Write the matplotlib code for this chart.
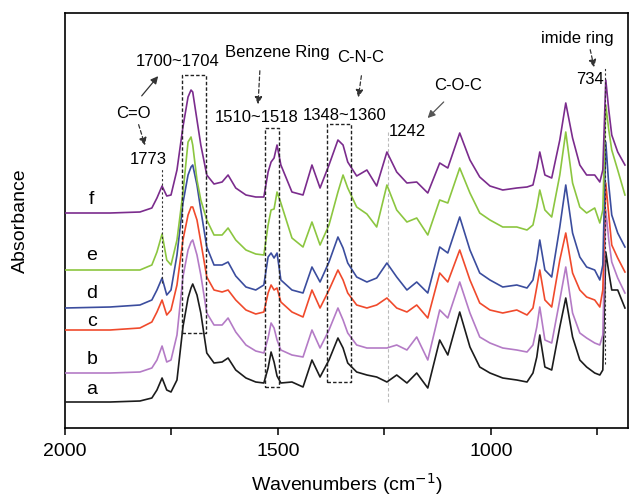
import matplotlib
matplotlib.use("Agg")
import matplotlib.pyplot as plt
from matplotlib.ticker import FixedLocator

plt.rcParams['font.family'] = ['Liberation Sans', 'DejaVu Sans']

# Wavenumber grid (cm^-1) shared by all spectra
wavenumber = [2000, 1894, 1824, 1796, 1784, 1772, 1761, 1751, 1737, 1723,
              1711, 1704, 1700, 1690, 1681, 1667, 1650, 1631, 1617, 1599, 1575,
              1552, 1533, 1523, 1516, 1509, 1502, 1493, 1467, 1441, 1420,
              1401, 1380, 1359, 1347, 1336, 1315, 1291, 1268, 1244, 1221,
              1197, 1174, 1148, 1120, 1101, 1073, 1049, 1026, 1002, 972,
              939, 915, 901, 892, 885, 873, 857, 838, 824, 808,
              791, 775, 756, 744, 737, 730, 723, 716, 702, 685]

# Absorbance (a.u., vertically offset) for each sample
spec_a = [26, 26, 27, 30, 38, 50, 38, 36, 48, 101,
          130, 140, 144, 133, 115, 75, 65, 66, 70, 58, 50,
          46, 45, 60, 76, 66, 52, 45, 46, 41, 68,
          51, 68, 90, 80, 65, 56, 53, 51, 46, 53,
          45, 55, 40, 88, 73, 116, 81, 61, 55, 50,
          48, 46, 55, 71, 93, 61, 58, 101, 130, 91,
          68, 61, 55, 53, 58, 176, 156, 138, 138, 120]
spec_b = [55, 55, 56, 60, 68, 82, 66, 68, 93, 151,
          178, 186, 188, 173, 153, 115, 103, 103, 110, 96, 83,
          77, 75, 90, 105, 100, 88, 78, 73, 71, 98,
          80, 98, 120, 108, 95, 83, 80, 80, 80, 83,
          78, 91, 68, 118, 110, 146, 115, 91, 85, 80,
          78, 76, 83, 101, 121, 88, 85, 128, 161, 115,
          95, 90, 85, 83, 93, 218, 188, 166, 150, 135]
spec_c = [98, 98, 100, 106, 116, 128, 113, 118, 143, 188,
          213, 221, 221, 208, 186, 151, 138, 136, 138, 128, 118,
          114, 116, 135, 143, 138, 140, 126, 116, 111, 138,
          120, 138, 158, 148, 135, 123, 120, 123, 130, 120,
          116, 123, 110, 155, 146, 178, 148, 125, 118, 115,
          118, 113, 120, 141, 158, 128, 121, 168, 195, 155,
          138, 131, 128, 121, 138, 245, 213, 183, 170, 156]
spec_d = [120, 121, 123, 128, 138, 150, 133, 138, 173, 225,
          253, 261, 263, 243, 218, 181, 163, 163, 166, 152, 141,
          138, 143, 171, 175, 170, 175, 148, 138, 135, 161,
          146, 166, 191, 180, 165, 151, 146, 150, 165, 151,
          138, 146, 135, 181, 175, 211, 178, 155, 148, 141,
          143, 140, 148, 168, 188, 158, 151, 201, 243, 195,
          171, 161, 158, 148, 163, 286, 243, 213, 195, 181]
spec_e = [158, 158, 158, 163, 176, 194, 168, 163, 188, 235,
          286, 291, 283, 248, 228, 208, 193, 193, 200, 188, 178,
          174, 173, 203, 218, 219, 236, 225, 190, 181, 206,
          183, 203, 236, 253, 240, 221, 214, 201, 243, 218,
          206, 210, 193, 228, 225, 260, 235, 215, 208, 201,
          201, 198, 203, 221, 238, 218, 211, 253, 296, 245,
          221, 215, 220, 205, 218, 323, 298, 278, 258, 233]
spec_f = [215, 215, 216, 220, 230, 242, 232, 233, 258, 301,
          331, 338, 336, 308, 283, 253, 244, 246, 253, 240, 233,
          231, 231, 256, 266, 270, 283, 263, 236, 233, 263,
          240, 263, 288, 283, 266, 252, 258, 242, 276, 256,
          245, 246, 235, 265, 260, 295, 268, 251, 242, 238,
          240, 241, 243, 260, 276, 253, 250, 288, 325, 290,
          263, 253, 253, 246, 258, 348, 318, 293, 276, 263]

sample_names = ['a', 'b', 'c', 'd', 'e', 'f']
spectra = [spec_a, spec_b, spec_c, spec_d, spec_e, spec_f]
colors = ['#1c1c1c', '#b47bc6', '#f04a2c', '#3b4d9e', '#8cc640', '#7b2c8d']
label_y = [38, 68, 106, 135, 173, 228]

x_major = [2000, 1500, 1000]
x_minor = [1750, 1250, 750]

fig = plt.figure(figsize=(6.29, 5.0), dpi=100)
ax = fig.add_axes([0.1033, 0.144, 0.895, 0.83])

for name, y, c, ly in zip(sample_names, spectra, colors, label_y):
    ax.plot(wavenumber, y, color=c, lw=1.2, zorder=3)
    ax.text(1937, ly, name, fontsize=14, ha='center', va='center')

ax.set_xlim(2000, 678)
ax.set_ylim(0, 415)
ax.set_yticks([])
ax.xaxis.set_major_locator(FixedLocator(x_major))
ax.xaxis.set_minor_locator(FixedLocator(x_minor))
ax.tick_params(axis='x', which='major', direction='out', length=5, width=1.1,
               labelsize=14, pad=6)
ax.tick_params(axis='x', which='minor', direction='out', length=5, width=1.1)
for s in ax.spines.values():
    s.set_linewidth(1.2)

ax.set_xlabel('Wavenumbers (cm$^{-1}$)', fontsize=14, labelpad=8)
ax.set_ylabel('Absorbance', fontsize=14, labelpad=26)

# dashed boxes
box_kw = dict(color='#222222', lw=1.0, ls=(0, (2.5, 1.5)), zorder=4)
for (x0, x1, y0, y1) in [(1725, 1669, 95, 353), (1531, 1498, 41, 300), (1385, 1329, 46, 304)]:
    ax.plot([x0, x1, x1, x0, x0], [y0, y0, y1, y1, y0], **box_kw)

# vertical guide lines
ax.plot([1772, 1772], [145, 260], color='#333333', lw=0.8, ls=(0, (2, 2)), zorder=4)
ax.plot([1242, 1242], [26, 298], color='#bbbbbb', lw=0.8, ls=(0, (3, 2)), zorder=2)
ax.plot([732, 732], [64, 360], color='#333333', lw=0.8, ls=(0, (2, 2)), zorder=4)

# annotation text
fs = 12
ax.text(1735, 366, '1700~1704', fontsize=fs, ha='center', va='center')
ax.text(1502, 375, 'Benzene Ring', fontsize=fs, ha='center', va='center')
ax.text(1840, 315, 'C=O', fontsize=fs, ha='center', va='center')
ax.text(1805, 268, '1773', fontsize=fs, ha='center', va='center')
ax.text(1549, 310, '1510~1518', fontsize=fs, ha='center', va='center')
ax.text(1305, 370, 'C-N-C', fontsize=fs, ha='center', va='center')
ax.text(1343, 313, '1348~1360', fontsize=fs, ha='center', va='center')
ax.text(1077, 342, 'C-O-C', fontsize=fs, ha='center', va='center')
ax.text(1195, 296, '1242', fontsize=fs, ha='center', va='center')
ax.text(798, 390, 'imide ring', fontsize=fs, ha='center', va='center')
ax.text(768, 348, '734', fontsize=fs, ha='center', va='center')

# arrows
solid = dict(arrowstyle='-|>', color='#333333', lw=0.9, mutation_scale=11)
dashed = dict(arrowstyle='-|>', color='#333333', lw=0.9, mutation_scale=11, ls=(0, (3, 2)))
ax.annotate('', xy=(1777, 354), xytext=(1824, 330), arrowprops=solid)
ax.annotate('', xy=(1810, 280), xytext=(1829, 306), arrowprops=dashed)
ax.annotate('', xy=(1547, 321), xytext=(1542, 360), arrowprops=dashed)
ax.annotate('', xy=(1312, 328), xytext=(1303, 355), arrowprops=dashed)
ax.annotate('', xy=(1153, 308), xytext=(1106, 328),
            arrowprops=dict(arrowstyle='-|>', color='#555555', lw=0.9, mutation_scale=11))
ax.annotate('', xy=(756, 358), xytext=(768, 381), arrowprops=dashed)

fig.savefig('out.png', dpi=100)
